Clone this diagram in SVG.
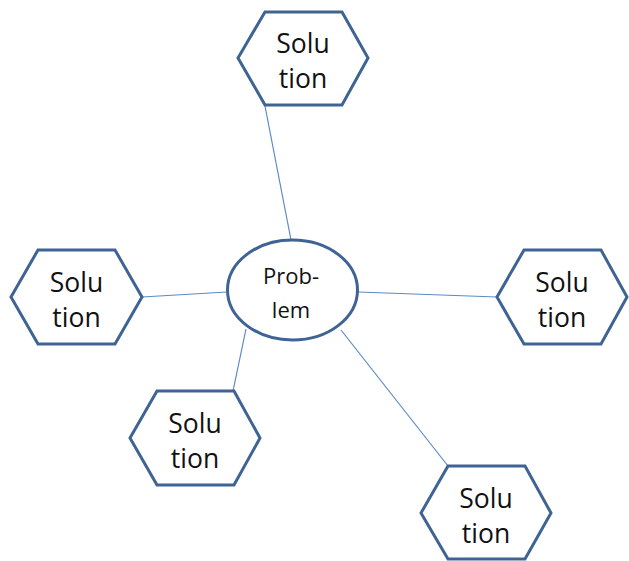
<svg xmlns="http://www.w3.org/2000/svg" width="629" height="561" viewBox="0 0 629 561">
  <style>
    .hex { fill: #ffffff; stroke: #3f6494; stroke-width: 3; stroke-linejoin: miter; }
    .ell { fill: #ffffff; stroke: #3f6494; stroke-width: 3; }
    .link { stroke: #5b8ac6; stroke-width: 1.2; fill: none; }
    .lbl { font-family: "Open Sans", "Liberation Sans", sans-serif; font-size: 26.5px; fill: #111111; text-anchor: middle; }
    .lbl-c { font-family: "Open Sans", "Liberation Sans", sans-serif; font-size: 22px; fill: #111111; text-anchor: middle; }
  </style>
  <rect width="629" height="561" fill="#ffffff"/>

  <g id="connectors">
    <line class="link" x1="265" y1="106" x2="291" y2="240"/>
    <line class="link" x1="142" y1="297" x2="227" y2="292"/>
    <line class="link" x1="358" y1="292" x2="497" y2="297"/>
    <line class="link" x1="246" y1="329" x2="233" y2="391"/>
    <line class="link" x1="341" y1="330" x2="448" y2="466"/>
  </g>

  <g id="problem">
    <ellipse class="ell" cx="292.5" cy="290" rx="65" ry="50"/>
    <text class="lbl-c" x="291" y="284">Prob-</text>
    <text class="lbl-c" x="291" y="318">lem</text>
  </g>

  <g id="solution-top">
    <polygon class="hex" points="238,58 265,12 342,12 368,58 342,105 265,105"/>
    <text class="lbl" x="303" y="53">Solu</text>
    <text class="lbl" x="303" y="88">tion</text>
  </g>

  <g id="solution-left">
    <polygon class="hex" points="11,297 38,250 115,250 142,297 115,344 38,344"/>
    <text class="lbl" x="76.5" y="292">Solu</text>
    <text class="lbl" x="76.5" y="327">tion</text>
  </g>

  <g id="solution-right">
    <polygon class="hex" points="497,297 524,250 601,250 627,297 601,344 524,344"/>
    <text class="lbl" x="562" y="292">Solu</text>
    <text class="lbl" x="562" y="327">tion</text>
  </g>

  <g id="solution-lower-left">
    <polygon class="hex" points="130,438 157,391 234,391 260,438 234,485 157,485"/>
    <text class="lbl" x="195" y="433">Solu</text>
    <text class="lbl" x="195" y="468">tion</text>
  </g>

  <g id="solution-lower-right">
    <polygon class="hex" points="421,513 448,466 525,466 551,513 525,559 448,559"/>
    <text class="lbl" x="486" y="508">Solu</text>
    <text class="lbl" x="486" y="543">tion</text>
  </g>
</svg>
